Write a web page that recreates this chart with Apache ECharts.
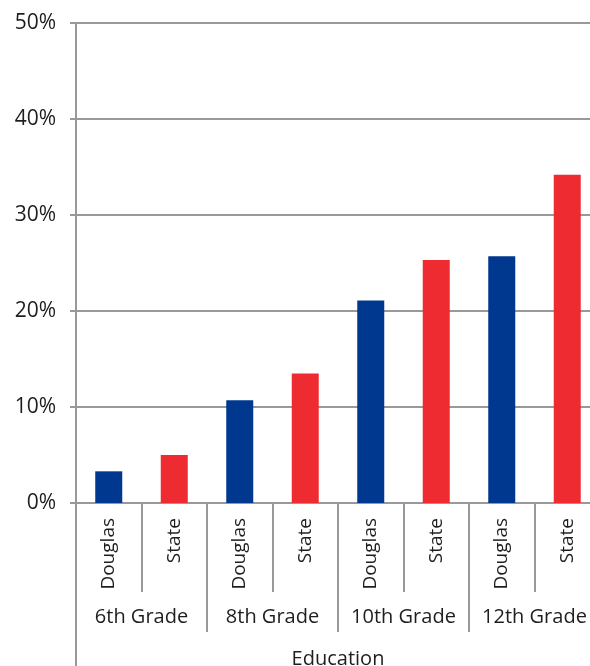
<!DOCTYPE html>
<html>
<head>
<meta charset="utf-8">
<script src="https://cdn.jsdelivr.net/npm/echarts@6/dist/echarts.min.js"></script>
<style>html,body{margin:0;padding:0;background:#fff}#c{width:590px;height:666px}</style>
</head>
<body>
<div id="c"></div>
<script>
var groups = ['6th Grade', '8th Grade', '10th Grade', '12th Grade'];
var subLabels = ['Douglas', 'State', 'Douglas', 'State', 'Douglas', 'State', 'Douglas', 'State'];
var douglas = [3.3, 10.7, 21.1, 25.7];
var state = [5.0, 13.5, 25.3, 34.2];
var yTicks = [0, 10, 20, 30, 40, 50];
var axisTitle = 'Education';

var blue = '#00378F', red = '#EE2B30', gray = '#999999', txt = '#1e1e1e';
var font = 'Open Sans';

var douglasData = [], stateData = [];
for (var i = 0; i < groups.length; i++) {
  douglasData.push({value: douglas[i], itemStyle: {color: blue}});
  douglasData.push('-');
  stateData.push('-');
  stateData.push({value: state[i], itemStyle: {color: red}});
}

var chart = echarts.init(document.getElementById('c'));
chart.setOption({
  animation: false,
  grid: {left: 76, top: 23, width: 524, bottom: 163, containLabel: false, outerBoundsMode: 'none'},
  xAxis: [
    {
      type: 'category', data: subLabels, position: 'bottom',
      axisLine: {show: true, lineStyle: {color: gray, width: 2}},
      axisTick: {show: true, length: 89, lineStyle: {color: gray, width: 2}},
      axisLabel: {rotate: 90, interval: 0, margin: 15, fontSize: 19, fontFamily: font, color: txt}
    },
    {
      type: 'category', data: groups, position: 'bottom', offset: 89,
      axisLine: {show: false},
      axisTick: {show: true, length: 40, lineStyle: {color: gray, width: 2}},
      axisLabel: {interval: 0, margin: 15, fontSize: 20, fontFamily: font, color: txt}
    },
    {
      type: 'category', data: [axisTitle], position: 'bottom', offset: 129,
      axisLine: {show: false},
      axisTick: {show: true, length: 40, lineStyle: {color: gray, width: 2}},
      axisLabel: {interval: 0, margin: 17, fontSize: 20, fontFamily: font, color: txt}
    }
  ],
  yAxis: {
    type: 'value', min: yTicks[0], max: yTicks[yTicks.length - 1], interval: 10,
    axisLine: {show: true, lineStyle: {color: gray, width: 2}},
    axisTick: {show: true, length: 6, lineStyle: {color: gray, width: 2}},
    splitLine: {show: true, lineStyle: {color: gray, width: 2}},
    axisLabel: {margin: 20, fontSize: 21, fontFamily: font, color: txt, formatter: '{value}%'}
  },
  series: [
    {type: 'bar', xAxisIndex: 0, data: douglasData, barWidth: 27, barGap: '-100%'},
    {type: 'bar', xAxisIndex: 0, data: stateData, barWidth: 27, barGap: '-100%'}
  ]
});
</script>
</body>
</html>
